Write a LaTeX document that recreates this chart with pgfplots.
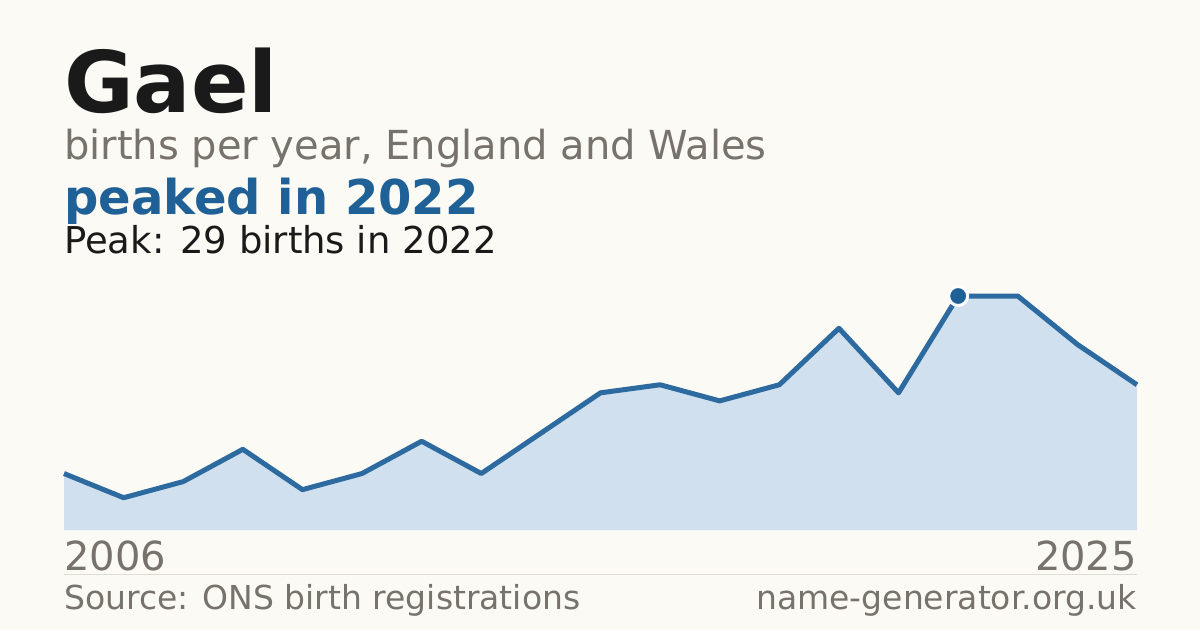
\documentclass[border=0pt]{standalone}
\usepackage{pgfplots}
\pgfplotsset{compat=1.18}
\usepackage{fontspec}
\setmainfont{DejaVu Sans}
\newfontface\boldface{DejaVu Sans Bold}

\definecolor{bg}{HTML}{FBFAF5}
\definecolor{ink}{HTML}{1A1A1A}
\definecolor{muted}{HTML}{77726B}
\definecolor{accent}{HTML}{1F6097}
\definecolor{linec}{HTML}{2C6A9F}
\definecolor{areac}{HTML}{D0E0EF}
\definecolor{rule}{HTML}{DEDBD3}

\begin{document}
\begin{tikzpicture}[x=1pt,y=1pt]
  % background, 1200 x 630
  \fill[bg] (0,0) rectangle (1200,-630);

  % headings
  \node[anchor=base west, inner sep=0, text=ink] at (64,-112)
    {\fontsize{85}{85}\selectfont\boldface Gael};
  \node[anchor=base west, inner sep=0, text=muted] at (64,-159)
    {\fontsize{40}{40}\selectfont births per year, England and Wales};
  \node[anchor=base west, inner sep=0, text=accent] at (64,-214)
    {\fontsize{48}{48}\selectfont\boldface peaked in 2022};
  \node[anchor=base west, inner sep=0, text=ink] at (64,-253)
    {\fontsize{37}{37}\selectfont Peak: 29 births in 2022};

  \begin{axis}[
      at={(64pt,-530pt)}, anchor=south west,
      width=1073pt, height=234pt, scale only axis,
      xmin=0, xmax=18, ymin=0, ymax=29,
      hide axis, clip=false,
    ]
    % area
    \addplot[fill=areac, draw=none] coordinates {
      (0,7)(1,4)(2,6)(3,10)(4,5)(5,7)(6,11)(7,7)(8,12)(9,17)
      (10,18)(11,16)(12,18)(13,25)(14,17)(15,29)(16,29)(17,23)(18,18)
    } \closedcycle;
    % line
    \addplot[linec, line width=5pt, line join=round] coordinates {
      (0,7)(1,4)(2,6)(3,10)(4,5)(5,7)(6,11)(7,7)(8,12)(9,17)
      (10,18)(11,16)(12,18)(13,25)(14,17)(15,29)(16,29)(17,23)(18,18)
    };
    % peak marker
    \addplot[only marks, mark=*, mark size=9.5pt,
      mark options={fill=accent, draw=white, line width=3pt}]
      coordinates {(15,29)};
  \end{axis}

  % year labels
  \node[anchor=base west, inner sep=0, text=muted] at (64,-570)
    {\fontsize{40}{40}\selectfont 2006};
  \node[anchor=base east, inner sep=0, text=muted] at (1137,-570)
    {\fontsize{40}{40}\selectfont 2025};

  % rule and footer
  \draw[rule, line width=1pt] (64,-574.5) -- (1137,-574.5);
  \node[anchor=base west, inner sep=0, text=muted] at (64,-609)
    {\fontsize{33}{33}\selectfont Source: ONS birth registrations};
  \node[anchor=base east, inner sep=0, text=muted] at (1137,-609)
    {\fontsize{33}{33}\selectfont name-generator.org.uk};
\end{tikzpicture}
\end{document}
